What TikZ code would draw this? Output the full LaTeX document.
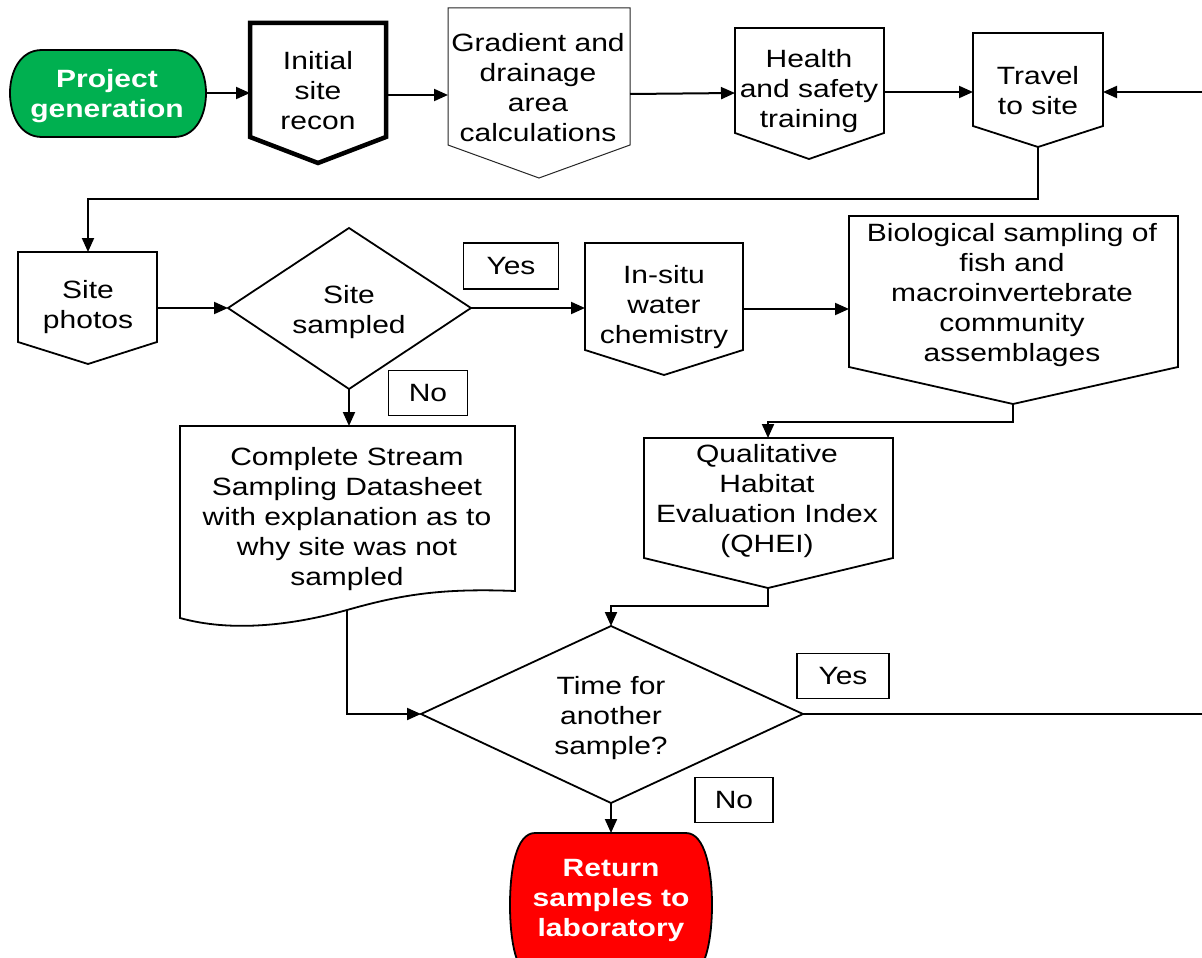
\documentclass[tikz,border=0pt]{standalone}
\usepackage{fontspec}
\setmainfont{Liberation Sans}[FakeStretch=1.2]
\usetikzlibrary{arrows.meta}
\definecolor{pgreen}{HTML}{00B050}
\definecolor{pred}{HTML}{FF0000}
\tikzset{
  shapebox/.style={draw=black, line width=1.8pt, fill=white, line join=miter},
  thickbox/.style={shapebox, line width=4.5pt},
  thinbox/.style={draw=black!85, line width=1pt, fill=white},
  txt/.style={align=center, inner sep=0pt, yshift=-3pt, font=\fontsize{25}{30}\selectfont},
  btxt/.style={align=center, inner sep=0pt, yshift=-3pt, font=\fontsize{25}{30}\selectfont\bfseries, text=white},
  lbl/.style={draw=black, line width=1.5pt, fill=white, inner sep=0pt, font=\fontsize{25}{30}\selectfont},
  conn/.style={line width=2pt},
  arr/.style={conn, -{Triangle[length=14pt,width=12pt]}},
}
\begin{document}
\begin{tikzpicture}[x=1pt,y=-1pt]
\useasboundingbox (0,0) rectangle (1202,958);
\clip (0,0) rectangle (1202,958);
\fill[white] (0,0) rectangle (1202,958);

% ---- shapes ----
% Project generation (green terminator)
\draw[draw=black, line width=1.8pt, fill=pgreen]
  (42,50) -- (174,50) .. controls (196,50) and (206,72) .. (206,93)
  .. controls (206,115) and (196,137) .. (174,137) -- (42,137)
  .. controls (20,137) and (10,115) .. (10,93)
  .. controls (10,72) and (20,50) .. (42,50) -- cycle;
% Initial site recon
\draw[thickbox] (250,23) -- (386,23) -- (386,137) -- (318,163) -- (250,137) -- cycle;
% Gradient
\draw[thinbox] (448,8) -- (630,8) -- (630,145) -- (539,178) -- (448,145) -- cycle;
% Health
\draw[shapebox] (735,28) -- (884,28) -- (884,133) -- (809,159) -- (735,133) -- cycle;
% Travel
\draw[shapebox] (973,33) -- (1103,33) -- (1103,126) -- (1038,147) -- (973,126) -- cycle;
% Site photos
\draw[shapebox] (18,252) -- (157,252) -- (157,342) -- (88,364) -- (18,342) -- cycle;
% Site sampled diamond
\draw[shapebox] (228,308) -- (349,228) -- (471,308) -- (349,389) -- cycle;
% In-situ
\draw[shapebox] (585,243) -- (743,243) -- (743,350) -- (664,375) -- (585,350) -- cycle;
% Biological
\draw[shapebox] (849,216) -- (1178,216) -- (1178,367) -- (1013,404) -- (849,367) -- cycle;
% QHEI
\draw[shapebox] (644,438) -- (893,438) -- (893,558) -- (768,588) -- (644,558) -- cycle;
% Complete datasheet (document)
\draw[shapebox] (180,426) -- (515,426) -- (515,591)
  .. controls (440,588) and (400,595) .. (347,610)
  .. controls (290,626) and (230,632) .. (180,618) -- cycle;
% Time diamond
\draw[shapebox] (421,714) -- (611,626) -- (803,714) -- (611,803) -- cycle;
% Return (red terminator)
\draw[draw=black, line width=1.8pt, fill=pred]
  (535,833) -- (686,833) .. controls (705,833) and (712,870) .. (712,905)
  .. controls (712,940) and (705,978) .. (686,978) -- (535,978)
  .. controls (516,978) and (510,940) .. (510,905)
  .. controls (510,870) and (516,833) .. (535,833) -- cycle;

% ---- texts ----
\node[btxt] (pg) at (107,93) {Project\\generation};
\node[txt] (ir) at (318,88) {Initial\\site\\recon};
\node[txt] (gd) at (538,85) {Gradient and\\drainage\\area\\calculations};
\node[txt] (hs) at (809,88) {Health\\and safety\\training};
\node[txt] (tr) at (1038,88) {Travel\\to site};
\node[txt] (sp) at (88,304) {Site\\photos};
\node[txt] (d1) at (349,309) {Site\\sampled};
\node[txt] (is) at (664,304) {In-situ\\water\\chemistry};
\node[txt] (bio) at (1012,292) {Biological sampling of\\fish and\\macroinvertebrate\\community\\assemblages};
\node[txt] (qh) at (767,498) {Qualitative\\Habitat\\Evaluation Index\\(QHEI)};
\node[txt] (cs) at (347,516) {Complete Stream\\Sampling Datasheet\\with explanation as to\\why site was not\\sampled};
\node[txt] (d2) at (611,715) {Time for\\another\\sample?};
\node[btxt] (rt) at (611,897) {Return\\samples to\\laboratory};

% ---- labels ----
\node[lbl, minimum width=95pt, minimum height=46pt] (yes1) at (511,266) {Yes};
\node[lbl, minimum width=79pt, minimum height=45pt] (no1) at (428,393) {No};
\node[lbl, minimum width=92pt, minimum height=45pt] (yes2) at (843,676) {Yes};
\node[lbl, minimum width=78pt, minimum height=45pt] (no2) at (734,800) {No};

% ---- connector anchors ----
\coordinate (pg-e) at (206,93);
\coordinate (ir-w) at (250,93);
\coordinate (ir-e) at (386,95);
\coordinate (gd-w) at (448,95);
\coordinate (gd-e) at (630,94);
\coordinate (hs-w) at (735,93);
\coordinate (hs-e) at (884,92);
\coordinate (tr-w) at (973,92);
\coordinate (tr-e) at (1103,92);
\coordinate (edge1) at (1202,92);
\coordinate (tr-s) at (1038,147);
\coordinate (sp-n) at (88,252);
\coordinate (sp-e) at (157,308);
\coordinate (d1-w) at (228,308);
\coordinate (d1-e) at (471,308);
\coordinate (d1-s) at (349,389);
\coordinate (is-w) at (585,308);
\coordinate (is-e) at (743,309);
\coordinate (bio-w) at (849,309);
\coordinate (bio-s) at (1013,404);
\coordinate (qh-n) at (768,438);
\coordinate (qh-s) at (768,588);
\coordinate (cs-n) at (349,426);
\coordinate (cs-s) at (347,610);
\coordinate (d2-n) at (611,626);
\coordinate (d2-w) at (421,714);
\coordinate (d2-e) at (803,714);
\coordinate (d2-s) at (611,803);
\coordinate (edge2) at (1202,714);
\coordinate (rt-n) at (611,833);

% ---- connectors ----
\draw[arr] (pg-e) -- (ir-w);
\draw[arr] (ir-e) -- (gd-w);
\draw[arr] (gd-e) -- (hs-w);
\draw[arr] (hs-e) -- (tr-w);
\draw[arr] (edge1) -- (tr-e);
\draw[arr] (tr-s) -- ++(0,52) -| (sp-n);
\draw[arr] (sp-e) -- (d1-w);
\draw[arr] (d1-e) -- (is-w);
\draw[arr] (is-e) -- (bio-w);
\draw[arr] (d1-s) -- (cs-n);
\draw[arr] (bio-s) -- ++(0,18) -| (qh-n);
\draw[arr] (qh-s) -- ++(0,18) -| (d2-n);
\draw[arr] (cs-s) |- (d2-w);
\draw[conn] (d2-e) -- (edge2);
\draw[arr] (d2-s) -- (rt-n);
\end{tikzpicture}
\end{document}
